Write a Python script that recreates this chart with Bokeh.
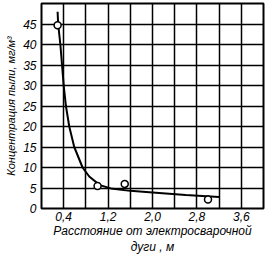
from bokeh.plotting import figure
from bokeh.models import FixedTicker, CustomJSTickFormatter, Range1d
from bokeh.embed import file_html
from bokeh.resources import INLINE

# measured points
pt_x = [0.29, 1.01, 1.50, 3.00]
pt_y = [44.7, 5.5, 6.0, 2.2]

# fitted curve
curve_x = [0.29, 0.30, 0.34, 0.37, 0.40, 0.44, 0.50, 0.59, 0.74, 0.86, 1.05, 1.25, 1.60, 2.00, 2.60, 3.20]
curve_y = [48.0, 45.0, 40.0, 35.0, 30.0, 25.0, 20.0, 15.0, 10.0, 7.8, 5.7, 4.9, 4.3, 3.9, 3.3, 2.8]

x_ticks = [0.4, 1.2, 2.0, 2.8, 3.6]
x_grid = [0.4, 0.8, 1.2, 1.6, 2.0, 2.4, 2.8, 3.2, 3.6]
y_ticks = [0, 5, 10, 15, 20, 25, 30, 35, 40, 45]
y_grid = [5, 10, 15, 20, 25, 30, 35, 40, 45]

FONT = "Liberation Sans"

p = figure(width=267, height=257, output_backend="svg", toolbar_location=None,
           x_range=Range1d(0, 4.0), y_range=Range1d(0, 50))
p.min_border_left = 41
p.min_border_right = 4
p.min_border_top = 3
p.min_border_bottom = 46
p.background_fill_color = "white"
p.border_fill_color = "white"
p.outline_line_color = "black"
p.outline_line_width = 2

p.xaxis.ticker = FixedTicker(ticks=x_ticks)
p.yaxis.ticker = FixedTicker(ticks=y_ticks)
p.xgrid.ticker = FixedTicker(ticks=x_grid)
p.ygrid.ticker = FixedTicker(ticks=y_grid)
for g in (p.xgrid, p.ygrid):
    g.grid_line_color = "black"
    g.grid_line_width = 1.5
    g.grid_line_alpha = 1.0

p.xaxis.formatter = CustomJSTickFormatter(code="return tick.toFixed(1).replace('.', ',');")
p.yaxis.formatter = CustomJSTickFormatter(code="return tick.toFixed(0);")

for ax in (p.xaxis, p.yaxis):
    ax.axis_line_color = None
    ax.major_tick_line_color = None
    ax.minor_tick_line_color = None
    ax.major_tick_out = 0
    ax.major_tick_in = 0
    ax.minor_tick_out = 0
    ax.minor_tick_in = 0
    ax.major_label_text_font = FONT
    ax.major_label_text_font_style = "italic"
    ax.major_label_text_font_size = "12px"
    ax.major_label_text_color = "black"
    ax.axis_label_text_font = FONT
    ax.axis_label_text_font_style = "italic"
    ax.axis_label_text_color = "black"

p.xaxis.axis_label_text_font_size = "12px"
p.yaxis.axis_label_text_font_size = "11px"
p.xaxis.major_label_standoff = 3
p.yaxis.major_label_standoff = 5
p.xaxis.axis_label = "Расстояние от электросварочной\nдуги , м"
p.yaxis.axis_label = "Концентрация пыли, мг/м³"
p.xaxis.axis_label_standoff = 0
p.yaxis.axis_label_standoff = 3

p.line(curve_x, curve_y, line_color="black", line_width=2)
p.scatter(pt_x, pt_y, marker="circle", size=7, fill_color="white",
          line_color="black", line_width=1.5)

open("out.html", "w").write(file_html(p, INLINE))
